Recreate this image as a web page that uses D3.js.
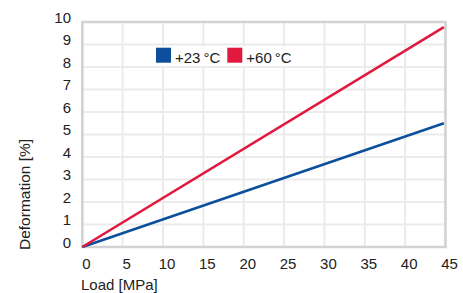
<!DOCTYPE html>
<html>
<head>
<meta charset="utf-8">
<script src="https://cdn.jsdelivr.net/npm/d3@7"></script>
<style>
  body { margin: 0; background: #fff; }
  text { font-family: "Liberation Sans", Arial, Helvetica, sans-serif; fill: #222; }
</style>
</head>
<body>
<div id="chart"></div>
<script>
// data
var loadMPa = [0, 44.8];
var deform23 = [0, 5.5];
var deform60 = [0, 9.77];
var seriesNames = ["+23\u2009°C", "+60\u2009°C"];
var xTicks = [0, 5, 10, 15, 20, 25, 30, 35, 40, 45];
var yTicks = [0, 1, 2, 3, 4, 5, 6, 7, 8, 9, 10];

var width = 463;
var height = 293;
var margin = { top: 22, right: 17.5, bottom: 46, left: 82.3 };
var colors = ["#0c4f9c", "#e2193f"];

var svg = d3.select("#chart")
    .append("svg")
    .attr("width", width)
    .attr("height", height);

var x = d3.scaleLinear()
    .domain([0, 45])
    .range([margin.left, width - margin.right]);

var y = d3.scaleLinear()
    .domain([0, 10])
    .range([height - margin.bottom, margin.top]);

// grid
svg.append("g")
    .selectAll("line")
    .data(xTicks)
    .enter()
    .append("line")
    .attr("x1", function (d) { return x(d); })
    .attr("x2", function (d) { return x(d); })
    .attr("y1", y(0))
    .attr("y2", y(10))
    .attr("stroke", "#ebebeb")
    .attr("stroke-width", 2);

svg.append("g")
    .selectAll("line")
    .data(yTicks)
    .enter()
    .append("line")
    .attr("x1", x(0))
    .attr("x2", x(45))
    .attr("y1", function (d) { return y(d); })
    .attr("y2", function (d) { return y(d); })
    .attr("stroke", "#ebebeb")
    .attr("stroke-width", 2);

// frame
svg.append("rect")
    .attr("x", x(0))
    .attr("y", y(10))
    .attr("width", x(45) - x(0))
    .attr("height", y(0) - y(10))
    .attr("fill", "none")
    .attr("stroke", "#d2d2d2")
    .attr("stroke-width", 2.5);

// tick labels
var xAxis = d3.axisBottom(x).tickValues(xTicks).tickSize(0).tickPadding(0);
var gx = svg.append("g")
    .attr("transform", "translate(3.5," + 269 + ")")
    .call(xAxis);
gx.select(".domain").remove();
gx.selectAll("text")
    .attr("dy", 0)
    .attr("y", 0)
    .style("font-size", "15px")
    .style("font-family", "'Liberation Sans', Arial, sans-serif")
    .attr("fill", "#222");

var yAxis = d3.axisLeft(y).tickValues(yTicks).tickSize(0).tickPadding(0);
var gy = svg.append("g")
    .attr("transform", "translate(71,0)")
    .call(yAxis);
gy.select(".domain").remove();
gy.selectAll("text")
    .attr("dy", 0)
    .attr("x", 0)
    .style("font-size", "15px")
    .style("font-family", "'Liberation Sans', Arial, sans-serif")
    .attr("fill", "#222");

// axis titles
svg.append("text")
    .attr("x", 81)
    .attr("y", 290)
    .style("font-size", "15px")
    .text("Load [MPa]");

svg.append("text")
    .attr("transform", "translate(30,250) rotate(-90)")
    .attr("text-anchor", "start")
    .style("font-size", "15.5px")
    .text("Deformation [%]");

// lines
var line = d3.line()
    .x(function (d) { return x(d[0]); })
    .y(function (d) { return y(d[1]); });

[deform23, deform60].forEach(function (vals, i) {
    svg.append("path")
        .datum(loadMPa.map(function (l, j) { return [l, vals[j]]; }))
        .attr("d", line)
        .attr("fill", "none")
        .attr("stroke", colors[i])
        .attr("stroke-width", 2.6);
});

// legend
svg.append("rect")
    .attr("x", 149)
    .attr("y", 46.5)
    .attr("width", 152)
    .attr("height", 19.5)
    .attr("fill", "#fff");

var legendX = [156, 227.3];
var legend = svg.selectAll(".legend")
    .data(seriesNames)
    .enter()
    .append("g")
    .attr("class", "legend")
    .attr("transform", function (d, i) {
        return "translate(" + legendX[i] + ",47.7)";
    });

legend.append("rect")
    .attr("width", 15)
    .attr("height", 15)
    .attr("fill", function (d, i) { return colors[i]; });

legend.append("text")
    .attr("x", 19)
    .attr("y", 15)
    .style("font-size", "15px")
    .text(function (d) { return d; });
</script>
</body>
</html>
